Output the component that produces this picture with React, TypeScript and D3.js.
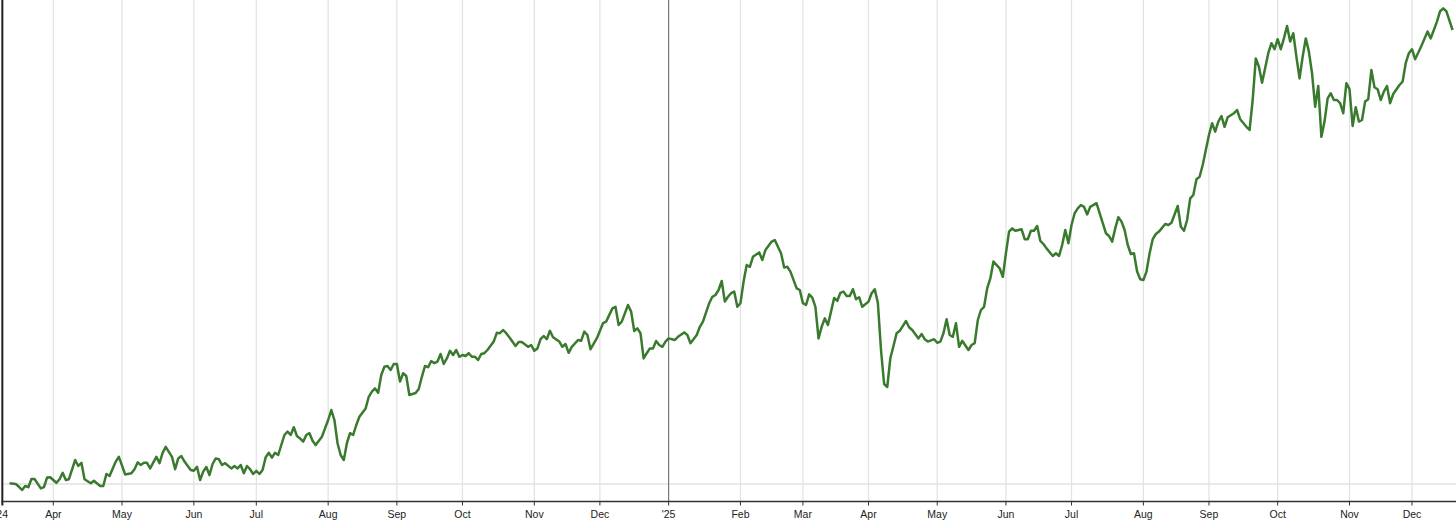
import React from 'react';
import * as d3 from 'd3';

// Trading-day index (weekdays counted from 2024-03-08) and % change since start
const START_DATE = '2024-03-08';
const LAST_DAY = 465;
const START_LABEL = "'24";

const tradingDay = [
  2, 4, 5, 6, 7, 8, 9, 10, 12, 13, 14, 15, 17, 18, 19, 20, 21, 23, 24, 25, 26, 28, 29, 31, 32, 33, 34, 36, 37, 39,
  41, 42, 43, 44, 45, 46, 47, 49, 50, 51, 52, 54, 55, 56, 57, 58, 60, 61, 62, 63, 64, 65, 66, 67, 68, 69, 70, 71, 73, 74,
  75, 76, 77, 78, 79, 80, 81, 82, 83, 84, 85, 86, 87, 88, 89, 90, 91, 92, 93, 94, 95, 96, 97, 98, 99, 100, 102, 103, 104, 105,
  106, 107, 108, 109, 110, 111, 112, 113, 114, 116, 117, 118, 119, 120, 121, 122, 123, 124, 125, 126, 127, 128, 129, 130, 132, 133, 134, 135, 136, 137,
  138, 139, 140, 141, 142, 143, 144, 145, 146, 147, 148, 149, 150, 151, 152, 153, 154, 155, 157, 158, 159, 160, 161, 162, 164, 165, 166, 168, 169, 170,
  171, 172, 173, 174, 175, 176, 178, 179, 180, 181, 182, 184, 185, 186, 187, 188, 190, 192, 193, 195, 196, 197, 198, 200, 201, 202, 203, 204, 205, 206,
  207, 208, 209, 210, 211, 212, 213, 215, 216, 218, 219, 220, 222, 223, 224, 226, 227, 228, 229, 230, 231, 232, 233, 234, 235, 236, 237, 238, 239, 240,
  242, 243, 244, 246, 247, 248, 249, 250, 251, 252, 254, 255, 256, 257, 258, 259, 260, 261, 262, 263, 264, 265, 266, 267, 268, 269, 270, 271, 272, 273,
  274, 275, 277, 278, 279, 280, 281, 282, 283, 284, 285, 286, 287, 289, 290, 291, 293, 294, 295, 296, 298, 299, 300, 301, 302, 303, 304, 305, 306, 307,
  309, 310, 311, 312, 313, 314, 315, 316, 317, 319, 320, 321, 322, 323, 324, 326, 327, 328, 329, 330, 331, 332, 333, 334, 336, 337, 338, 339, 340, 341,
  342, 343, 344, 345, 346, 347, 348, 350, 351, 352, 353, 354, 355, 356, 357, 358, 359, 360, 361, 362, 363, 364, 365, 366, 367, 368, 369, 370, 372, 373,
  374, 376, 377, 378, 379, 380, 381, 382, 383, 384, 385, 386, 387, 388, 389, 390, 391, 392, 394, 395, 396, 398, 399, 400, 401, 402, 403, 405, 406, 407,
  408, 409, 410, 411, 412, 413, 414, 415, 416, 417, 418, 419, 420, 421, 422, 423, 424, 425, 426, 427, 428, 429, 430, 431, 432, 433, 434, 435, 436, 437,
  438, 439, 440, 441, 442, 443, 444, 445, 447, 448, 449, 450, 451, 452, 453, 454, 456, 457, 458, 459, 460, 461, 462, 464,
];

const pctChange = [
  0.2, 0, -0.7, -1.5, -0.5, -0.8, 1.25, 1.25, -1.1, -0.8, 1.6, 1.7, 0.3, 1.2, 2.8, 1.0, 1.2, 6.0, 4.5, 5.3, 1.2, 0.2, 0.8, -0.5, -0.5, 2.5, 2.0, 5.6, 6.8, 2.4,
  2.7, 3.7, 5.4, 4.75, 5.3, 5.3, 3.9, 6.8, 5.2, 7.8, 9.3, 6.8, 3.7, 6.4, 7.0, 5.6, 3.5, 3.3, 4.3, 1.0, 3.1, 4.25, 2.25, 5.0, 6.4, 6.2, 4.75, 5.2, 3.9, 4.5,
  3.9, 4.75, 2.7, 4.5, 3.7, 2.5, 3.3, 2.5, 3.5, 6.7, 7.8, 6.6, 7.8, 7.25, 9.75, 12.25, 13.1, 12.25, 14.2, 12, 11.4, 10.6, 12.25, 12.7, 10.8, 9.75, 11.8, 13.9, 16, 18.5,
  16, 10.2, 7.25, 6, 10.2, 12.7, 12.25, 14.75, 16.8, 18.9, 21.8, 23.1, 23.9, 22.8, 27.25, 29.3, 29.5, 28.5, 30, 30, 25.6, 27.7, 27, 22.25, 22.75, 23.75, 26.8, 29.5, 29.2, 30.75,
  30.2, 30.6, 32.5, 30, 31.4, 33.3, 32.25, 33.5, 31.8, 32.25, 32, 32.7, 31.8, 31.8, 31, 32.5, 32.7, 33.5, 35.6, 37.8, 37.7, 38.5, 37.7, 36.7, 34.5, 35.5, 35.5, 34.3, 34.75, 33.3,
  33.9, 36.2, 37, 36.2, 38.3, 36.7, 35.6, 34.3, 35, 32.8, 34.3, 36, 35.8, 38.1, 37.25, 33.7, 36.4, 40.2, 40.6, 43.9, 44.3, 39.75, 40.6, 44.75, 43.1, 38.25, 38.9, 37.7, 31.4, 32.7,
  33.9, 33.9, 35.75, 34.75, 34.3, 35.6, 36.4, 36, 36.8, 37.9, 37.25, 35.2, 37.25, 39.3, 40.6, 45.2, 46.8, 47.25, 48.5, 50.75, 45.6, 46.8, 47.7, 48.1, 44.3, 45.2, 50.6, 54.75, 54.3, 56.8,
  57.9, 56, 58.5, 60.6, 61, 59.3, 57.7, 54.1, 54.3, 53.1, 48.9, 48.5, 45.2, 44.75, 47.4, 46.6, 44.3, 36.4, 39.3, 41.4, 39.75, 43.1, 46.5, 45.8, 47.8, 48.1, 47, 47, 48.7, 46.2,
  46.7, 44.3, 45.6, 47.7, 48.7, 45.25, 33.5, 25, 24.25, 31.5, 34.5, 37.7, 38.3, 40.75, 39.2, 38.5, 36.4, 37.5, 36.2, 35.6, 36.2, 35.3, 35.6, 37.7, 41.2, 37.25, 36.8, 40.2, 34.3, 35.8,
  33.5, 34.75, 35.2, 41, 43.5, 44.3, 48.9, 51.4, 55.6, 53.9, 51.8, 57.7, 63.1, 63.9, 63.3, 63.7, 61.2, 61.2, 63.3, 63.3, 64.5, 60.8, 60, 58.9, 57, 57.7, 57, 59.75, 63.5, 60.2,
  64.75, 67.7, 68.9, 69.75, 69.3, 67.4, 69.3, 70.2, 67.7, 65.2, 62.7, 62, 60.6, 63.9, 66.7, 65.6, 63.5, 59.75, 57.5, 57.7, 53.1, 51.2, 51, 53.1, 57.7, 61.2, 62.5, 63.1, 65, 64.75,
  65.3, 69.5, 64.3, 63.3, 66, 71.4, 72.25, 76.2, 76.8, 79.75, 83.5, 87.25, 90.2, 88.1, 90.6, 92, 89.3, 91.7, 92.7, 93.5, 91.2, 89.3, 88.5, 96, 106.4, 104.3, 100.3, 107.7, 110.2, 108.7,
  111.2, 108.7, 111.4, 114.5, 110.6, 112.7, 106.8, 101.4, 106.8, 111.4, 108.1, 102.7, 94.3, 99.5, 86.8, 90.6, 96.4, 97.7, 96, 96, 95.2, 92.7, 100.2, 98.7, 89.5, 94.2, 90.6, 91, 95.6, 96.2,
  103.5, 99.2, 98.7, 96, 98.1, 99.5, 95.2, 97.5, 99.75, 100.6, 105.2, 107.7, 108.7, 106.2, 107.8, 109.5, 113.1, 111.4, 113.5, 115.6, 118.2, 118.9, 118.2, 113.5,
];

const yDomain = [0, 120];

function businessDays(start: string, count: number): Date[] {
  const out: Date[] = [];
  const d = new Date(start + 'T00:00:00Z');
  while (out.length <= count) {
    const wd = d.getUTCDay();
    if (wd !== 0 && wd !== 6) out.push(new Date(d.getTime()));
    d.setUTCDate(d.getUTCDate() + 1);
  }
  return out;
}

export default function App() {
  const W = 1456;
  const H = 528;
  const axisY = 501.5;
  const x = d3.scaleLinear().domain([0, LAST_DAY]).range([3.33, 1455.7]);
  const y = d3.scaleLinear().domain(yDomain).range([484, 4]);

  const days = businessDays(START_DATE, LAST_DAY);
  const ticks: { i: number; label: string; year: boolean }[] = [];
  for (let i = 1; i < days.length; i++) {
    if (days[i].getUTCMonth() !== days[i - 1].getUTCMonth()) {
      const m = days[i].getUTCMonth();
      const label = m === 0 ? "'" + String(days[i].getUTCFullYear()).slice(2) : d3.utcFormat('%b')(days[i]);
      ticks.push({ i, label, year: m === 0 });
    }
  }

  const data = tradingDay.map((d, k) => [d, pctChange[k]] as [number, number]);
  const line = d3
    .line<[number, number]>()
    .x((d) => x(d[0]))
    .y((d) => y(d[1]));

  const font = '"Liberation Sans", Arial, sans-serif';

  return (
    <svg
      width={W}
      height={H}
      style={{ position: 'absolute', left: 0, top: 0, background: '#fff' }}
      fontFamily={font}
    >
      <rect x={0} y={0} width={W} height={H} fill="#fff" />
      {ticks
        .filter((t) => !t.year)
        .map((t) => (
          <line key={'g' + t.i} x1={x(t.i)} x2={x(t.i)} y1={0} y2={axisY} stroke="#e2e2e2" strokeWidth={1.2} />
        ))}
      <line x1={x(0)} x2={W} y1={y(0)} y2={y(0)} stroke="#e2e2e2" strokeWidth={1.5} />
      {ticks
        .filter((t) => t.year)
        .map((t) => (
          <line key={'y' + t.i} x1={x(t.i)} x2={x(t.i)} y1={0} y2={axisY} stroke="#777" strokeWidth={1.2} />
        ))}
      <path d={line(data) || ''} fill="none" stroke="#3a7a2e" strokeWidth={2.5} strokeLinejoin="round" />
      <line x1={x(0) - 1} x2={x(0) - 1} y1={0} y2={axisY + 4} stroke="#222" strokeWidth={2} />
      <line x1={x(0) - 2} x2={W} y1={axisY} y2={axisY} stroke="#333" strokeWidth={1.5} />
      {ticks.map((t) => (
        <g key={'t' + t.i}>
          <line x1={x(t.i)} x2={x(t.i)} y1={axisY} y2={axisY + 4} stroke="#333" strokeWidth={1} />
          <text x={x(t.i)} y={517.5} textAnchor="middle" fontSize={10.5} fill="#222">
            {t.label}
          </text>
        </g>
      ))}
      <text x={8} y={517.5} textAnchor="end" fontSize={10.5} fill="#222">
        {START_LABEL}
      </text>
    </svg>
  );
}
